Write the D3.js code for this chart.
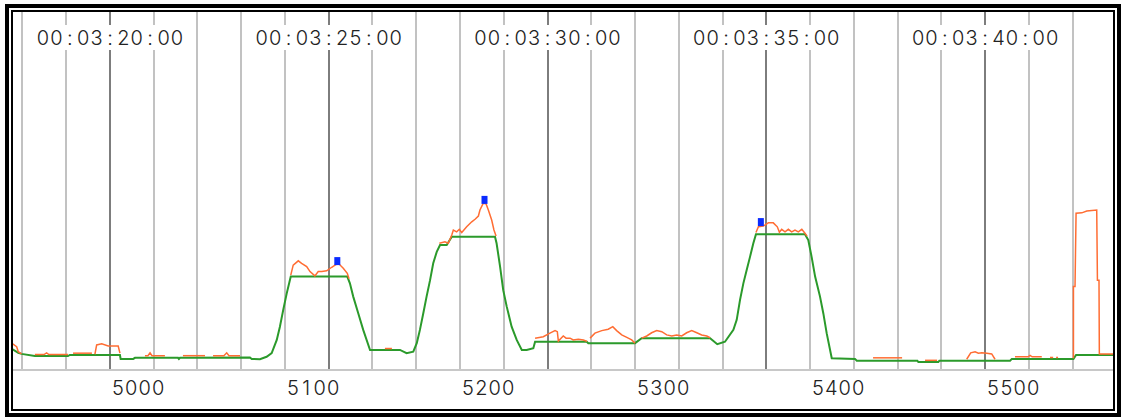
<!DOCTYPE html>
<html>
<head>
<meta charset="utf-8">
<script src="https://cdn.jsdelivr.net/npm/d3@7"></script>
<style>
  body { margin: 0; background: #fff; }
  svg { display: block; }
</style>
</head>
<body>
<svg id="chart" width="1121" height="417"></svg>
<script>
// frame numbers on the x axis, 25 frames per second
const frameDomain = [4928.6, 5557.1];
const frameTicks = [5000, 5100, 5200, 5300, 5400, 5500];
const fps = 25;
const frameOffset = -16;          // frame = fps * second + frameOffset
const seconds = d3.range(198, 223);

// smoothed level (green)
const smooth = [
  [4928.4, 5.8], [4931.6, 4.8], [4933.5, 4.5], [4941.1, 3.9], [4960, 3.9], [4961.1, 4.2],
  [4989.7, 4.2], [4990.1, 3.1], [4997.3, 3.1], [4998.3, 3.4], [5022.9, 3.4], [5023.4, 3.1],
  [5024, 3.4], [5064, 3.5], [5065, 3.1], [5069.7, 3.0], [5073.5, 3.7], [5076.4, 4.7],
  [5079.3, 8.4], [5081.1, 12.1], [5083, 16.8], [5085, 21.4], [5087.3, 26.1], [5119.6, 26.1],
  [5121.1, 24.2], [5123, 20.5], [5125.9, 15.8], [5128.7, 11.2], [5132.6, 5.6], [5149.7, 5.6],
  [5153.5, 4.7], [5157.3, 5.1], [5159.3, 7.5], [5161.1, 11.2], [5163, 15.8], [5164.9, 20.5],
  [5166.9, 25.1], [5168.7, 29.8], [5170.7, 33.0], [5172.6, 34.9], [5176.4, 34.9], [5179.3, 37.2],
  [5204, 37.2], [5204.9, 35.4], [5206.9, 28.9], [5208.7, 22.3], [5210.7, 17.7], [5213.5, 12.1],
  [5216.4, 8.4], [5219.3, 5.6], [5222.1, 5.6], [5225.9, 6.1], [5226.9, 7.9], [5256.4, 7.9],
  [5257.3, 7.5], [5284, 7.5], [5287.8, 8.9], [5326.9, 8.9], [5331, 7.2], [5335.4, 7.9],
  [5340.2, 11.2], [5342.1, 14.0], [5344, 19.6], [5345.9, 24.2], [5347.8, 27.9], [5349.7, 31.6],
  [5351.6, 35.4], [5353.1, 37.9], [5381.1, 37.9], [5383, 36.3], [5384.9, 31.6], [5386.9, 26.1],
  [5389.7, 20.5], [5391.6, 15.8], [5393.5, 10.3], [5396.4, 3.3], [5409.7, 3.1], [5410.7, 2.6],
  [5445.3, 2.6], [5445.9, 2.2], [5457.3, 2.2], [5457.9, 2.6], [5498.3, 2.6], [5499.3, 3.1],
  [5534.5, 3.1], [5536, 4.2], [5558, 4.2]
];

// raw level (orange), only the stretches where it sits above the smoothed one
const raw = [
  [[4928.4, 7.3], [4930.7, 6.5], [4931.6, 5.1], [4933.5, 4.5]],
  [[4941.1, 4.3], [4946.3, 4.3], [4947.8, 4.8], [4949.1, 4.3], [4960, 4.3]],
  [[4962.9, 4.7], [4973.7, 4.7]],
  [[4975.4, 4.4], [4976.4, 7.0], [4979.3, 7.3], [4983, 6.7], [4988.7, 6.7], [4989.7, 4.7]],
  [[5004, 4.0], [5005.7, 4.0], [5006.9, 4.8], [5008, 4.0], [5015.4, 4.0]],
  [[5025.7, 4.0], [5038.3, 4.0]],
  [[5042.9, 4.0], [5049.1, 4.0], [5050.7, 4.8], [5052, 4.0], [5058.3, 4.0]],
  [[5087.3, 26.5], [5088.7, 29.3], [5091.6, 30.5], [5093.5, 29.8], [5096.4, 28.9], [5098.3, 27.5],
   [5101.1, 26.3], [5103, 27.5], [5105, 27.5], [5107.8, 27.7], [5110.7, 28.7], [5112.6, 29.3],
   [5114.5, 29.8], [5117.3, 28.4], [5119.6, 27.0], [5120.6, 25.5]],
  [[5141.1, 6.0], [5145.1, 6.0]],
  [[5172.2, 35.4], [5175.4, 35.8], [5177.3, 35.4], [5179.3, 37.7], [5180.2, 39.1], [5182.1, 38.6],
   [5183.6, 39.3], [5185, 38.4], [5187.8, 40.0], [5190.7, 41.4], [5192.6, 42.1], [5194.5, 43.0],
   [5195.4, 44.7], [5197.3, 46.6], [5198.9, 46.4], [5200.2, 44.7], [5202.1, 41.9], [5203.4, 39.1],
   [5204.6, 37.4]],
  [[5226.9, 8.9], [5231.6, 9.3], [5235.4, 10.3], [5238.3, 11.0], [5239.6, 10.7], [5240.2, 8.1],
   [5243, 9.5], [5244.6, 8.9], [5246.9, 8.9], [5248.7, 8.4], [5251.6, 8.6], [5254.5, 8.4],
   [5256.6, 8.0]],
  [[5258.3, 8.9], [5261.1, 10.3], [5265, 11.0], [5268.7, 11.4], [5271.3, 12.1], [5273.5, 11.0],
   [5276.4, 9.8], [5279.3, 9.1], [5282.1, 8.4], [5284, 7.5]],
  [[5287.8, 8.9], [5290.7, 9.5], [5293.5, 10.4], [5296.4, 11.0], [5299.3, 10.7], [5302.1, 9.8],
   [5305, 9.5], [5307.8, 9.8], [5310.7, 9.5], [5313.5, 10.4], [5316.4, 11.0], [5319.3, 10.4],
   [5322.1, 9.8], [5325, 9.5], [5326.9, 9.0]],
  [[5353.1, 38.4], [5354.5, 40.0], [5357.3, 40.2], [5360.2, 41.1], [5363, 41.1], [5365.3, 40.0],
   [5366.5, 38.5], [5367.8, 39.3], [5369.7, 38.6], [5371.6, 39.3], [5373.5, 38.6], [5375.4, 39.1],
   [5377.3, 38.6], [5379.3, 39.3], [5381.1, 38.2], [5382.3, 37.4]],
  [[5420, 3.4], [5436.6, 3.4]],
  [[5449.7, 2.7], [5456.6, 2.7]],
  [[5473.5, 3.0], [5475.8, 4.8], [5478.3, 5.1], [5480.2, 4.7], [5482.1, 4.8], [5485, 4.7],
   [5487.8, 4.5], [5489.7, 3.0]],
  [[5501.1, 3.7], [5508.6, 3.7], [5509.7, 4.1], [5510.9, 3.7], [5516.4, 3.7]],
  [[5521.1, 3.5], [5522.9, 3.5]],
  [[5524.6, 3.5], [5525.7, 3.5]],
  [[5534.5, 3.3], [5534.5, 23.3], [5535.4, 23.3], [5536, 43.8], [5539.3, 43.9], [5542.1, 44.4],
   [5547.8, 44.7], [5548.2, 25.1], [5549.1, 25.1], [5549.3, 4.5], [5558, 4.5]]
];

// detected peaks (blue marks)
const peaks = [[5113.9, 29.3], [5198, 46.4], [5355.9, 40.2]];

const svg = d3.select('#chart');
const plotLeft = 13, plotRight = 1113, plotTop = 12, plotBottom = 409, axisY = 370;

let x = d3.scaleLinear().domain(frameDomain).range([plotLeft, plotRight]);
let y = d3.scaleLinear().domain([0, 100]).range([axisY, plotTop]);

const font = 'Inter, Liberation Sans, sans-serif';
const pitch = 13.4;

function monoText(g, str, cx, baseY) {
  let chars = str.split('');
  g.selectAll(null).data(chars).enter().append('text')
    .attr('x', (d, i) => cx + (i - (chars.length - 1) / 2) * pitch)
    .attr('y', baseY)
    .attr('text-anchor', 'middle')
    .attr('font-family', font)
    .attr('font-weight', 300)
    .attr('font-size', 20)
    .attr('fill', '#222')
    .text(d => d);
}

svg.append('defs').append('clipPath').attr('id', 'plot')
  .append('rect').attr('x', plotLeft).attr('y', plotTop)
  .attr('width', plotRight - plotLeft).attr('height', plotBottom - plotTop);

// one gridline per second, darker every 5 seconds
let secFrame = s => fps * s + frameOffset;
svg.append('g').selectAll('line').data(seconds).enter().append('line')
  .attr('x1', s => Math.round(x(secFrame(s))))
  .attr('x2', s => Math.round(x(secFrame(s))))
  .attr('y1', plotTop).attr('y2', axisY)
  .attr('stroke', s => s % 5 == 0 ? '#7d7d7d' : '#c2c2c2')
  .attr('stroke-width', 2);

svg.append('line')
  .attr('x1', plotLeft).attr('x2', plotRight)
  .attr('y1', axisY).attr('y2', axisY)
  .attr('stroke', '#c8c8c8').attr('stroke-width', 2);

// timecode labels
function timecode(s) {
  let p = n => String(n).padStart(2, '0');
  return p(Math.floor(s / 3600)) + ':' + p(Math.floor(s / 60) % 60) + ':' + p(s % 60) + ':00';
}
let labelSecs = seconds.filter(s => s % 5 == 0);
labelSecs.forEach(function(s) {
  let cx = x(secFrame(s));
  let g = svg.append('g');
  g.append('rect').attr('x', cx - 80).attr('y', 25).attr('width', 160).attr('height', 25)
    .attr('fill', '#fff');
  monoText(g, timecode(s), cx, 45);
});

// frame tick labels
frameTicks.forEach(function(f) {
  monoText(svg.append('g'), String(f), x(f), 395);
});

let plot = svg.append('g').attr('clip-path', 'url(#plot)');
let line = d3.line().x(d => x(d[0])).y(d => y(d[1]));

plot.append('path').datum(smooth)
  .attr('d', line)
  .attr('fill', 'none')
  .attr('stroke', '#2b9a2b')
  .attr('stroke-width', 2);

plot.selectAll('.raw').data(raw).enter().append('path')
  .attr('class', 'raw')
  .attr('d', line)
  .attr('fill', 'none')
  .attr('stroke', '#ff6d33')
  .attr('stroke-width', 1.5);

plot.selectAll('.peak').data(peaks).enter().append('rect')
  .attr('class', 'peak')
  .attr('x', d => x(d[0]) - 3)
  .attr('y', d => y(d[1]) - 8)
  .attr('width', 6).attr('height', 8)
  .attr('fill', '#0a2bff');

// double frame
svg.append('rect').attr('x', 7).attr('y', 6).attr('width', 1112).attr('height', 409)
  .attr('fill', 'none').attr('stroke', '#000').attr('stroke-width', 4);
svg.append('rect').attr('x', 12).attr('y', 11).attr('width', 1102).attr('height', 399)
  .attr('fill', 'none').attr('stroke', '#000').attr('stroke-width', 2);
</script>
</body>
</html>
